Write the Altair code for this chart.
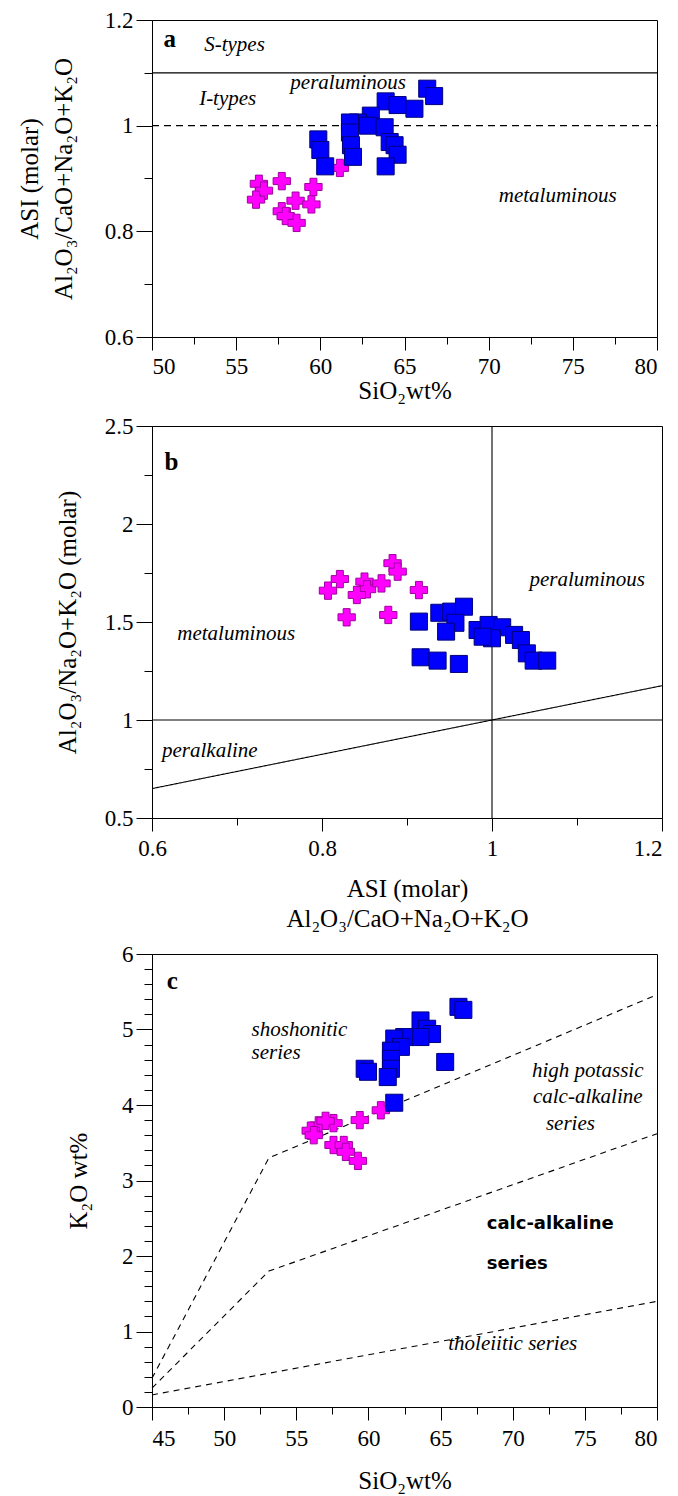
import altair as alt
import pandas as pd

SERIF = "Liberation Serif"
BLUE, BLUE_EDGE = "#0000ff", "#00007a"
MAG, MAG_EDGE = "#ff00ff", "#a000a0"

# ---------------- Panel a : SiO2 vs ASI ----------------
a_sq_sio2 = [66.35, 66.76, 63.88, 64.59, 65.59, 63.00, 62.24, 61.76, 62.82, 63.82,
             61.76, 61.82, 61.94, 64.12, 64.41, 64.59, 63.88, 59.88, 60.00, 60.29]
a_sq_asi = [1.070, 1.056, 1.046, 1.039, 1.032, 1.019, 1.006, 1.006, 1.000, 0.997,
            0.987, 0.963, 0.941, 0.969, 0.963, 0.945, 0.923, 0.974, 0.954, 0.923]
a_cr_sio2 = [61.16, 56.35, 56.65, 57.71, 59.59, 56.18, 58.53, 59.47, 57.71, 57.94, 58.59]
a_cr_asi = [0.920, 0.890, 0.877, 0.895, 0.884, 0.860, 0.858, 0.851, 0.838, 0.829, 0.816]

# ---------------- Panel b : ASI vs A/NK ----------------
b_sq_asi = [0.914, 0.938, 0.952, 0.967, 0.957, 0.946, 0.983, 0.996, 1.012, 1.000,
            0.989, 1.026, 1.034, 1.041, 1.049, 1.065, 0.916, 0.936, 0.961]
b_sq_ank = [1.502, 1.547, 1.553, 1.578, 1.496, 1.451, 1.459, 1.485, 1.473, 1.417,
            1.425, 1.434, 1.408, 1.340, 1.303, 1.303, 1.320, 1.303, 1.286]
b_cr_asi = [0.807, 0.821, 0.850, 0.853, 0.841, 0.870, 0.883, 0.889, 0.914, 0.829, 0.878]
b_cr_ank = [1.660, 1.719, 1.706, 1.667, 1.638, 1.697, 1.800, 1.757, 1.663, 1.524, 1.536]

# ---------------- Panel c : SiO2 vs K2O ----------------
c_sq_sio2 = [66.24, 66.58, 63.61, 64.07, 64.41, 63.61, 62.48, 61.79, 62.25, 61.56,
             61.56, 61.56, 61.34, 59.74, 59.97, 65.32, 61.79]
c_sq_k2o = [5.30, 5.26, 5.12, 5.01, 4.94, 4.90, 4.90, 4.88, 4.77, 4.72,
            4.61, 4.48, 4.37, 4.48, 4.44, 4.57, 4.03]
c_cr_sio2 = [60.86, 59.40, 57.58, 56.55, 56.00, 56.21, 57.58, 58.29, 58.43, 59.27, 57.03]
c_cr_k2o = [3.93, 3.80, 3.76, 3.73, 3.66, 3.60, 3.47, 3.47, 3.38, 3.26, 3.79]

# boundary lines (data units)
a_solid_x, a_solid_y = [50, 80], [1.1, 1.1]
a_dash_x, a_dash_y = [50, 80], [1.0, 1.0]
b_h_x, b_h_y = [0.6, 1.2], [1.0, 1.0]
b_v_x, b_v_y = [1.0, 1.0], [0.5, 2.5]
b_d_x, b_d_y = [0.6, 1.2], [0.65, 1.175]
c_top_x, c_top_y = [45, 53.1, 80], [0.38, 3.30, 5.46]
c_mid_x, c_mid_y = [45, 53.1, 80], [0.25, 1.80, 3.62]
c_low_x, c_low_y = [45, 80], [0.16, 1.40]

# tick values
a_x_major = [50, 55, 60, 65, 70, 75, 80]
a_x_minor = [52.5, 57.5, 62.5, 67.5, 72.5, 77.5]
a_y_major = [0.6, 0.8, 1.0, 1.2]
a_y_minor = [0.7, 0.9, 1.1]
b_x_major = [0.6, 0.8, 1.0, 1.2]
b_x_minor = [0.7, 0.9, 1.1]
b_y_major = [0.5, 1.0, 1.5, 2.0, 2.5]
b_y_minor = [0.75, 1.25, 1.75, 2.25]
c_x_major = [45, 50, 55, 60, 65, 70, 75, 80]
c_x_minor = [47.5, 52.5, 57.5, 62.5, 67.5, 72.5, 77.5]
c_y_major = [0, 1, 2, 3, 4, 5, 6]
c_y_minor = [0.2, 0.4, 0.6, 0.8, 1.2, 1.4, 1.6, 1.8, 2.2, 2.4, 2.6, 2.8,
             3.2, 3.4, 3.6, 3.8, 4.2, 4.4, 4.6, 4.8, 5.2, 5.4, 5.6, 5.8]

# annotations
a_letter = ("a", 51.06, 1.164)
a_left_txt = ["S-types", "I-types"]
a_left_x = [53.1, 52.8]
a_left_y = [1.153, 1.05]
a_ctr_txt = ["peraluminous", "metaluminous"]
a_ctr_x = [61.65, 74.1]
a_ctr_y = [1.081, 0.867]

b_letter = ("b", 0.623, 2.316)
b_ctr_txt = ["peraluminous", "metaluminous", "peralkaline"]
b_ctr_x = [1.112, 0.699, 0.668]
b_ctr_y = [1.714, 1.439, 0.842]

c_letter = ("c", 46.4, 5.64)
c_left_txt = ["shoshonitic", "series"]
c_left_x = [51.9, 51.9]
c_left_y = [5.0, 4.69]
c_ctr_txt = ["high potassic", "calc-alkaline", "series", "tholeiitic series"]
c_ctr_x = [75.2, 75.2, 74.0, 70.0]
c_ctr_y = [4.45, 4.1, 3.75, 0.83]
c_bold_txt = ["calc-alkaline", "series"]
c_bold_x = [68.2, 68.2]
c_bold_y = [2.42, 1.89]


def df_xy(xs, ys):
    return pd.DataFrame({"x": xs, "y": ys})


def panel(xdom, ydom, xmaj, xmin, ymaj, ymin, xtitle, ytitle, w, h,
          squares, crosses, lines, texts, xlabel_align=None,
          ytitle_pad=20, xtitle_pad=6, ytitle_lh=None, xtitle_lh=None, xlabel_pad=5):
    xs = alt.Scale(domain=xdom, nice=False, zero=False)
    ys = alt.Scale(domain=ydom, nice=False, zero=False)
    corner = df_xy([xdom[0]], [ydom[0]])

    xaxis_kw = dict(values=xmaj, format="~g", tickSize=13, orient="bottom",
                    title=xtitle, titlePadding=xtitle_pad, labelOverlap=False,
                    labelPadding=xlabel_pad)
    if xlabel_align is not None:
        xaxis_kw["labelAlign"] = xlabel_align
    if xtitle_lh is not None:
        xaxis_kw["titleLineHeight"] = xtitle_lh
    yaxis_kw = dict(values=ymaj, format="~g", tickSize=16, orient="left",
                    title=ytitle, titlePadding=ytitle_pad, labelOverlap=False)
    if ytitle_lh is not None:
        yaxis_kw["titleLineHeight"] = ytitle_lh

    major = alt.Chart(corner).mark_point(opacity=0).encode(
        x=alt.X("x:Q", scale=xs, axis=alt.Axis(**xaxis_kw)),
        y=alt.Y("y:Q", scale=ys, axis=alt.Axis(**yaxis_kw)),
    )
    minor = alt.Chart(corner).mark_point(opacity=0).encode(
        x=alt.X("x:Q", scale=xs, axis=alt.Axis(values=xmin, labels=False, domain=False,
                                               tickSize=7, orient="bottom", title=None)),
        y=alt.Y("y:Q", scale=ys, axis=alt.Axis(values=ymin, labels=False, domain=False,
                                               tickSize=8, orient="left", title=None)),
    )

    def enc():
        return dict(x=alt.X("x:Q", scale=xs, axis=None), y=alt.Y("y:Q", scale=ys, axis=None))

    layers = [major, minor]
    for d, dash in lines:
        layers.append(alt.Chart(d).mark_line(color="black", strokeWidth=1.1,
                                             strokeDash=dash if dash else [1, 0])
                      .encode(order="o:Q", **enc()))
    for d, style in texts:
        layers.append(alt.Chart(d).mark_text(color="black", **style)
                      .encode(text="t:N", **enc()))
    layers.append(alt.Chart(crosses).mark_point(shape="cross", filled=True, size=300,
                                                fill=MAG, stroke=MAG_EDGE, strokeWidth=1,
                                                opacity=1).encode(**enc()))
    layers.append(alt.Chart(squares).mark_point(shape="square", filled=True, size=290,
                                                fill=BLUE, stroke=BLUE_EDGE, strokeWidth=1,
                                                opacity=1).encode(**enc()))
    return alt.layer(*layers).resolve_axis(x="independent", y="independent").properties(
        width=w, height=h)


def line(xs, ys):
    d = df_xy(xs, ys)
    d["o"] = range(len(xs))
    return d


def tdf(txts, xs, ys):
    d = df_xy(xs, ys)
    d["t"] = txts
    return d


ital = dict(font=SERIF, fontStyle="italic", fontSize=21)
bold_letter = dict(font=SERIF, fontWeight="bold", fontSize=25, align="center")

pa = panel(
    [50, 80], [0.6, 1.2], a_x_major, a_x_minor, a_y_major, a_y_minor,
    "SiO\u2082wt%", ["ASI (molar)", "Al\u2082O\u2083/CaO+Na\u2082O+K\u2082O"], 505, 317,
    df_xy(a_sq_sio2, a_sq_asi), df_xy(a_cr_sio2, a_cr_asi),
    [(line(a_solid_x, a_solid_y), None), (line(a_dash_x, a_dash_y), [7, 5])],
    [(tdf([a_letter[0]], [a_letter[1]], [a_letter[2]]), bold_letter),
     (tdf(a_left_txt, a_left_x, a_left_y), dict(align="left", **ital)),
     (tdf(a_ctr_txt, a_ctr_x, a_ctr_y), dict(align="center", **ital))],
    ytitle_pad=28, ytitle_lh=34, xtitle_pad=0, xlabel_pad=5,
)

pb = panel(
    [0.6, 1.2], [0.5, 2.5], b_x_major, b_x_minor, b_y_major, b_y_minor,
    ["ASI (molar)", "Al\u2082O\u2083/CaO+Na\u2082O+K\u2082O"], "Al\u2082O\u2083/Na\u2082O+K\u2082O (molar)",
    510, 392,
    df_xy(b_sq_asi, b_sq_ank), df_xy(b_cr_asi, b_cr_ank),
    [(line(b_h_x, b_h_y), None), (line(b_v_x, b_v_y), None), (line(b_d_x, b_d_y), None)],
    [(tdf([b_letter[0]], [b_letter[1]], [b_letter[2]]), bold_letter),
     (tdf(b_ctr_txt, b_ctr_x, b_ctr_y), dict(align="center", **ital))],
    xlabel_align={"condition": {"test": "datum.value > 1.15", "value": "right"}, "value": "center"},
    ytitle_pad=24, xtitle_pad=16, xtitle_lh=30, xlabel_pad=6,
)

pc = panel(
    [45, 80], [0, 6], c_x_major, c_x_minor, c_y_major, c_y_minor,
    "SiO\u2082wt%", "K\u2082O wt%", 505, 453,
    df_xy(c_sq_sio2, c_sq_k2o), df_xy(c_cr_sio2, c_cr_k2o),
    [(line(c_top_x, c_top_y), [6, 5]), (line(c_mid_x, c_mid_y), [6, 5]),
     (line(c_low_x, c_low_y), [6, 5])],
    [(tdf([c_letter[0]], [c_letter[1]], [c_letter[2]]), bold_letter),
     (tdf(c_left_txt, c_left_x, c_left_y), dict(align="left", **ital)),
     (tdf(c_ctr_txt, c_ctr_x, c_ctr_y), dict(align="center", **ital)),
     (tdf(c_bold_txt, c_bold_x, c_bold_y),
      dict(align="left", font="DejaVu Sans", fontWeight="bold", fontSize=18))],
    ytitle_pad=30, xtitle_pad=18, xlabel_pad=7,
)

chart = alt.vconcat(pa, pb, pc, spacing=10).properties(
    padding={"left": 8, "top": 0, "right": 0, "bottom": 0}
).configure_view(
    stroke="black", strokeWidth=1
).configure_axis(
    grid=False, domainColor="black", tickColor="black", tickWidth=1, domainWidth=1,
    labelFont=SERIF, labelFontSize=23, labelColor="black", labelPadding=3,
    titleFont=SERIF, titleFontSize=25, titleFontWeight="normal", titleColor="black",
)

chart.save("out.html", embed_options={"renderer": "svg", "actions": False})
